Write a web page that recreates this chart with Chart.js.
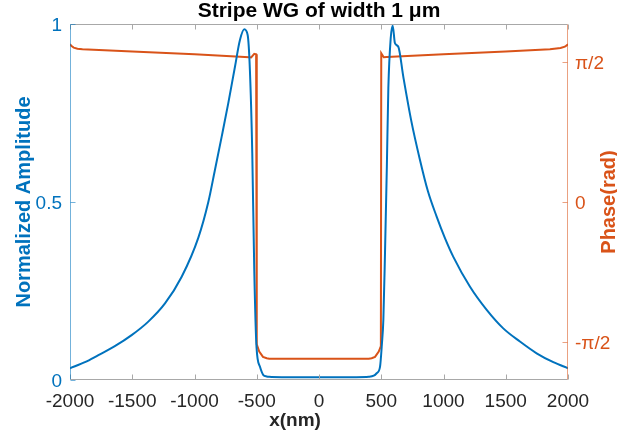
<!DOCTYPE html>
<html><head><meta charset="utf-8">
<script src="https://cdn.jsdelivr.net/npm/chart.js@4.4.1/dist/chart.umd.min.js"></script>
<style>html,body{margin:0;padding:0;background:#fff;overflow:hidden}#wrap{width:617px;height:437px}</style>
</head><body><div id="wrap"><canvas id="c" width="617" height="437"></canvas></div>
<script>
const chartTitle = 'Stripe WG of width 1 μm';
const xTitle = 'x(nm)';
const ampTitle = 'Normalized Amplitude';
const phaseTitle = 'Phase(rad)';

const xTickValues = [-2000, -1500, -1000, -500, 0, 500, 1000, 1500, 2000];
const ampTickValues = [0, 0.5, 1];
const phaseTickValues = [-Math.PI / 2, 0, Math.PI / 2];
const phaseTickLabels = ['-π/2', '0', 'π/2'];

const ampX = [-2000, -1880, -1772, -1640, -1505, -1371, -1237, -1103, -969, -889, -836, -782, -729, -675, -635, -600, -573, -555, -536, -520, -502, -474, -447, -420, -400, -300, 0, 300, 400, 440, 463, 490, 505, 517, 530, 545, 557, 576, 592, 610, 637, 677, 740, 811, 875, 945, 1010, 1079, 1213, 1347, 1480, 1614, 1748, 1882, 2000];
const ampY = [0.033, 0.05, 0.070, 0.095, 0.126, 0.164, 0.215, 0.29, 0.40, 0.50, 0.59, 0.683, 0.777, 0.88, 0.955, 0.985, 0.969, 0.87, 0.637, 0.309, 0.093, 0.037, 0.014, 0.010, 0.009, 0.008, 0.008, 0.008, 0.009, 0.012, 0.019, 0.037, 0.10, 0.17, 0.355, 0.6, 0.82, 0.96, 0.995, 0.946, 0.936, 0.852, 0.73, 0.618, 0.53, 0.459, 0.40, 0.346, 0.262, 0.197, 0.145, 0.108, 0.075, 0.050, 0.033];

const phaseX = [-2000, -1990, -1970, -1940, -1900, -1500, -1000, -560, -545, -520, -505, -500, -480, -450, -420, -400, 0, 400, 423, 450, 480, 497, 500, 520, 545, 1000, 1500, 1855, 1940, 1975, 1995, 2000];
const phaseY = [1.776, 1.755, 1.735, 1.722, 1.715, 1.69, 1.66, 1.627, 1.625, 1.665, 1.66, -1.60, -1.68, -1.74, -1.755, -1.76, -1.76, -1.76, -1.755, -1.74, -1.68, -1.62, 1.672, 1.627, 1.63, 1.66, 1.69, 1.717, 1.73, 1.745, 1.765, 1.776];

const BLUE = '#0072BD', ORANGE = '#D95319';
const FONT = '"Liberation Sans", Arial, Helvetica, sans-serif';

const framePlugin = {
  id: 'frame',
  afterDatasetsDraw(chart) {
    const {ctx, chartArea: a, scales} = chart;
    const L = Math.round(a.left) + 0.5, R = Math.round(a.right) - 0.5;
    const T = Math.round(a.top) + 0.5, B = Math.round(a.bottom) - 0.5;
    const tl = 5;
    ctx.save();
    ctx.lineWidth = 1;
    ctx.strokeStyle = '#a8a8a8';
    ctx.beginPath();
    ctx.moveTo(L, T); ctx.lineTo(R, T);
    ctx.moveTo(L, B); ctx.lineTo(R, B);
    scales.x.ticks.forEach(t => {
      const p = Math.round(scales.x.getPixelForValue(t.value)) + 0.5;
      ctx.moveTo(p, B); ctx.lineTo(p, B - tl);
      ctx.moveTo(p, T); ctx.lineTo(p, T + tl);
    });
    ctx.stroke();
    ctx.strokeStyle = 'rgba(0,114,189,0.55)';
    ctx.beginPath();
    ctx.moveTo(L, T); ctx.lineTo(L, B);
    scales.y.ticks.forEach(t => {
      const p = Math.round(scales.y.getPixelForValue(t.value)) + 0.5;
      ctx.moveTo(L, p); ctx.lineTo(L + tl, p);
    });
    ctx.stroke();
    ctx.strokeStyle = 'rgba(217,83,25,0.55)';
    ctx.beginPath();
    ctx.moveTo(R, T); ctx.lineTo(R, B);
    scales.y1.ticks.forEach(t => {
      const p = Math.round(scales.y1.getPixelForValue(t.value)) + 0.5;
      ctx.moveTo(R, p); ctx.lineTo(R - tl, p);
    });
    ctx.stroke();
    ctx.font = 'bold 19px ' + FONT;
    ctx.fillStyle = '#262626';
    ctx.textAlign = 'center';
    ctx.textBaseline = 'middle';
    ctx.fillText(xTitle, (a.left + a.right) / 2 - 24, 421);
    ctx.translate(609, (a.top + a.bottom) / 2);
    ctx.rotate(-Math.PI / 2);
    ctx.font = 'bold 20px ' + FONT;
    ctx.fillStyle = ORANGE;
    ctx.fillText(phaseTitle, 0, 0);
    ctx.restore();
  }
};

new Chart(document.getElementById('c'), {
  type: 'line',
  data: {
    datasets: [
      {
        label: 'Amplitude',
        data: ampX.map((x, i) => ({x, y: ampY[i]})),
        yAxisID: 'y',
        borderColor: BLUE,
        borderWidth: 2,
        pointRadius: 0,
        cubicInterpolationMode: 'monotone',
        fill: false
      },
      {
        label: 'Phase',
        data: phaseX.map((x, i) => ({x, y: phaseY[i]})),
        yAxisID: 'y1',
        borderColor: ORANGE,
        borderWidth: 2,
        pointRadius: 0,
        tension: 0,
        fill: false
      }
    ]
  },
  options: {
    responsive: false,
    animation: false,
    devicePixelRatio: 1,
    layout: {padding: 0},
    plugins: {
      legend: {display: false},
      tooltip: {enabled: false},
      title: {
        display: true,
        fullSize: false,
        text: chartTitle,
        color: '#000',
        font: {family: FONT, size: 21, weight: 'bold', lineHeight: 1},
        padding: {top: 1, bottom: 2}
      }
    },
    scales: {
      x: {
        type: 'linear',
        min: -2000, max: 2000,
        afterFit: s => { s.height = 57; },
        afterBuildTicks: s => { s.ticks = xTickValues.map(v => ({value: v})); },
        grid: {display: false, drawTicks: false},
        border: {display: false},
        ticks: {
          color: '#262626',
          font: {family: FONT, size: 19},
          padding: 10,
          maxRotation: 0,
          autoSkip: false,
          callback: v => String(v)
        },
        title: {display: false}
      },
      y: {
        type: 'linear', position: 'left',
        min: 0, max: 1,
        afterFit: s => { s.width = 70; },
        afterBuildTicks: s => { s.ticks = ampTickValues.map(v => ({value: v})); },
        grid: {display: false, drawTicks: false},
        border: {display: false},
        ticks: {
          color: BLUE,
          font: {family: FONT, size: 19},
          padding: 8,
          labelOffset: 2,
          callback: v => String(v)
        },
        title: {
          display: true, text: ampTitle, color: BLUE,
          font: {family: FONT, size: 20, weight: 'bold'},
          padding: {top: 12, bottom: 0}
        }
      },
      y1: {
        type: 'linear', position: 'right',
        min: -2, max: 2,
        afterFit: s => { s.width = 49; },
        afterBuildTicks: s => { s.ticks = phaseTickValues.map(v => ({value: v})); },
        grid: {display: false, drawTicks: false},
        border: {display: false},
        ticks: {
          color: ORANGE,
          font: {family: FONT, size: 19},
          padding: 7,
          labelOffset: 2,
          callback: (v, i) => phaseTickLabels[i]
        }
      }
    }
  },
  plugins: [framePlugin]
});
</script>
</body></html>
